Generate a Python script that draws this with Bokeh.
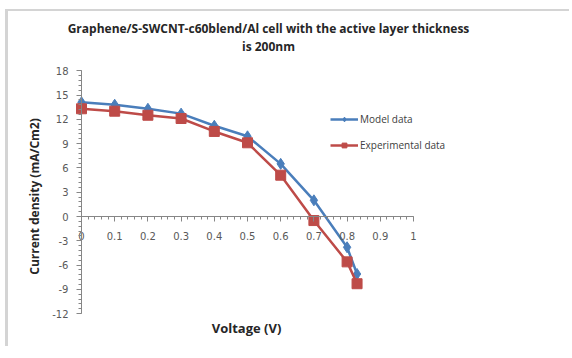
import numpy as np
from bokeh.plotting import figure
from bokeh.models import (Range1d, FixedTicker, Legend, LegendItem, Label)
from bokeh.embed import file_html
from bokeh.resources import INLINE

# ---- data ----
voltage = [0, 0.1, 0.2, 0.3, 0.4, 0.5, 0.6, 0.7, 0.8, 0.83]
model_data = [14.1, 13.8, 13.3, 12.7, 11.2, 9.9, 6.5, 2.0, -3.8, -7.1]
experimental_data = [13.3, 13.0, 12.5, 12.1, 10.5, 9.1, 5.1, -0.5, -5.6, -8.3]

x_ticks = [0, 0.1, 0.2, 0.3, 0.4, 0.5, 0.6, 0.7, 0.8, 0.9, 1]
x_tick_labels = ["0", "0.1", "0.2", "0.3", "0.4", "0.5", "0.6", "0.7", "0.8", "0.9", "1"]
y_ticks = [-12, -9, -6, -3, 0, 3, 6, 9, 12, 15, 18]
y_tick_labels = ["-12", "-9", "-6", "-3", "0", "3", "6", "9", "12", "15", "18"]

title_line1 = "Graphene/S-SWCNT-c60blend/Al cell with the active layer thickness"
title_line2 = "is 200nm"
x_title = "Voltage (V)"
y_title = "Current density (mA/Cm2)"

BLUE = "#4A7EBB"
RED = "#BE4B48"
AXIS = "#868686"
TICKTXT = "#595959"
TXT = "#262626"
FONT = "Open Sans"

# ---- layout: the frame covers almost the whole canvas; axes are fixed at 0 ----
PX_X = 332.0      # pixels per volt
PX_Y = 8.1        # pixels per mA/cm2
FRAME_W, FRAME_H = 557, 332
LEFT_PX, TOP_PX = 69, 203   # pixel distance from frame left to V=0, frame top to J=0
x0 = -LEFT_PX / PX_X
y1 = TOP_PX / PX_Y

p = figure(width=564, height=337, output_backend="svg", toolbar_location=None,
           x_range=Range1d(x0, x0 + FRAME_W / PX_X),
           y_range=Range1d(y1 - FRAME_H / PX_Y, y1),
           min_border_left=4, min_border_top=2, min_border_right=3,
           min_border_bottom=3)
p.styles = {"margin-top": "9px", "margin-left": "5px",
            "border-top": "2px solid #d4d4d4", "border-left": "3px solid #d4d4d4"}
p.outline_line_color = None
p.grid.visible = False
p.background_fill_color = "white"
p.border_fill_color = "white"

# axes
xminor = list(np.round(np.arange(0, 1.0001, 0.02), 4))
yminor = list(np.round(np.arange(-12, 18.0001, 0.6), 4))
p.xaxis.ticker = FixedTicker(ticks=x_ticks, minor_ticks=xminor)
p.yaxis.ticker = FixedTicker(ticks=y_ticks, minor_ticks=yminor)
p.xaxis.major_label_overrides = {t: l for t, l in zip(x_ticks, x_tick_labels)}
p.yaxis.major_label_overrides = {t: l for t, l in zip(y_ticks, y_tick_labels)}
p.xaxis.fixed_location = 0
p.yaxis.fixed_location = 0
p.xaxis.bounds = (0, 1)
p.yaxis.bounds = (-12, 18)
for ax in (p.xaxis, p.yaxis):
    ax.axis_line_color = AXIS
    ax.major_tick_line_color = AXIS
    ax.minor_tick_line_color = AXIS
    ax.major_tick_in = 0
    ax.major_tick_out = 5
    ax.minor_tick_in = 0
    ax.minor_tick_out = 3
    ax.major_label_text_color = TICKTXT
    ax.major_label_text_font = "DejaVu Sans"
    ax.major_label_text_font_size = "10px"
p.xaxis.major_label_standoff = 10
p.yaxis.major_label_standoff = 8

# series
r1l = p.line(voltage, model_data, line_color=BLUE, line_width=2.5)
r1m = p.scatter(voltage, model_data, marker="diamond", size=11,
                fill_color=BLUE, line_color=BLUE)
r2l = p.line(voltage, experimental_data, line_color=RED, line_width=2.5)
r2m = p.scatter(voltage, experimental_data, marker="square", size=10,
                fill_color=RED, line_color=RED)

legend = Legend(items=[LegendItem(label="Model data", renderers=[r1l, r1m]),
                       LegendItem(label="Experimental data", renderers=[r2l, r2m])],
                location=(318, 193), orientation="vertical",
                padding=0, margin=0, spacing=12, label_standoff=2,
                glyph_width=28, glyph_height=12, label_height=12,
                label_text_font=FONT, label_text_font_size="10px",
                label_text_color="#404040",
                border_line_color=None, background_fill_alpha=0)
p.add_layout(legend, "center")

# texts, in screen pixels relative to the frame (x from left, y up from bottom)
def mk_label(text, x, y, size, angle=0.0):
    return Label(x=x, y=y, x_units="screen", y_units="screen", text=text,
                 text_align="center", text_baseline="middle", angle=angle,
                 text_font=FONT, text_font_style="bold", text_font_size=size,
                 text_color=TXT)

p.add_layout(mk_label(title_line1, 256, 317, "12px"))
p.add_layout(mk_label(title_line2, 256, 299, "12px"))
p.add_layout(mk_label(x_title, 234, 18, "13px"))
p.add_layout(mk_label(y_title, 22, 149, "12px", angle=np.pi / 2))

open("out.html", "w").write(file_html(p, INLINE))
